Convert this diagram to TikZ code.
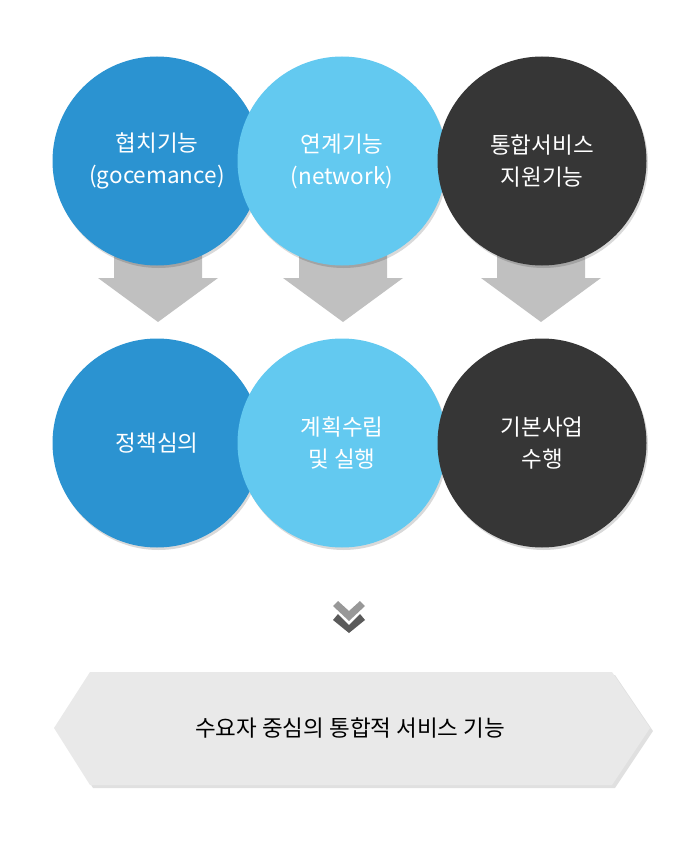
\documentclass[tikz,border=0pt]{standalone}
\usepackage{fontspec}
\setmainfont{Noto Sans CJK KR}
\usetikzlibrary{shadows,calc}
\definecolor{cblue}{HTML}{2B93D1}
\definecolor{clight}{HTML}{63C9F0}
\definecolor{cdark}{HTML}{363636}
\definecolor{carrow}{HTML}{C0C0C0}
\definecolor{cbanner}{HTML}{E9E9E9}
\definecolor{cchevA}{HTML}{989898}
\definecolor{cchevB}{HTML}{5A5A5A}
\tikzset{
  ball/.style={circle, minimum size=209pt, inner sep=0pt, text=white,
    align=center, font=\fontsize{22.5}{32}\selectfont,
    drop shadow={shadow xshift=1.5pt, shadow yshift=-2.5pt, opacity=0.15, fill=black}},
  blockarrow/.style={fill=carrow},
}
\begin{document}
\begin{tikzpicture}[x=1pt,y=-1pt]
\useasboundingbox (0,0) rectangle (700,850);
% coordinates for arrow roots
\coordinate (a1) at (158,161);
\coordinate (a2) at (343,161);
\coordinate (a3) at (541,161);
% block arrows (behind circles)
\foreach \c in {a1,a2,a3}{
  \fill[blockarrow] ($(\c)+(-44,60)$) -- ($(\c)+(44,60)$) -- ($(\c)+(44,117)$)
    -- ($(\c)+(60,117)$) -- ($(\c)+(0,161)$) -- ($(\c)+(-60,117)$)
    -- ($(\c)+(-44,117)$) -- cycle;
}
% top row
\node[ball, fill=cblue]  (t1) at (157,161) {협치기능\\(gocemance)};
\node[ball, fill=clight] (t2) at (342,161) {연계기능\\(network)};
\node[ball, fill=cdark]  (t3) at (542,161) {통합서비스\\지원기능};
% bottom row
\node[ball, fill=cblue]  (b1) at (157,443) {정책심의};
\node[ball, fill=clight] (b2) at (342,443) {계획수립\\및 실행};
\node[ball, fill=cdark]  (b3) at (542,443) {기본사업\\수행};
% double chevron
\coordinate (ch) at (349,601);
\fill[cchevA] ($(ch)+(-16,5)$) -- ($(ch)+(-11,0)$) -- ($(ch)+(0,10)$) -- ($(ch)+(11,0)$)
  -- ($(ch)+(16,5)$) -- ($(ch)+(0,20)$) -- cycle;
\fill[cchevB] ($(ch)+(-16,19)$) -- ($(ch)+(-11,13)$) -- ($(ch)+(0,24)$) -- ($(ch)+(11,13)$)
  -- ($(ch)+(16,19)$) -- ($(ch)+(0,32)$) -- cycle;
% banner
\fill[black, opacity=0.12] (57,731) -- (93,675) -- (615,675) -- (653,731) -- (615,788) -- (93,788) -- cycle;
\fill[cbanner] (54,728) -- (90,672) -- (612,672) -- (650,728) -- (612,785) -- (90,785) -- cycle;
\node[font=\fontsize{22.5}{24}\selectfont, text=black] (bt) at (350,728) {수요자 중심의 통합적 서비스 기능};
\end{tikzpicture}
\end{document}
